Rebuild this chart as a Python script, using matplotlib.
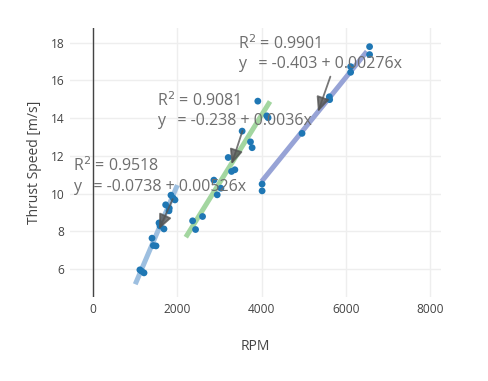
import numpy as np
import matplotlib.pyplot as plt

# measured points, three RPM groups
rpm_1 = [1110, 1150, 1208, 1398, 1429, 1493, 1564, 1588, 1682, 1722, 1808, 1801, 1848, 1903, 1943]
speed_1 = [5.95, 5.88, 5.79, 7.63, 7.24, 7.22, 8.44, 8.28, 8.12, 9.40, 9.22, 9.08, 9.91, 9.75, 9.66]

rpm_2 = [2362, 2432, 2598, 2867, 2946, 3033, 3207, 3286, 3365, 3538, 3736, 3775, 3910, 4123, 4154]
speed_2 = [8.55, 8.09, 8.78, 10.71, 9.93, 10.28, 11.91, 11.17, 11.26, 13.31, 12.74, 12.43, 14.90, 14.12, 14.02]

rpm_3 = [4012, 4012, 4960, 5608, 5616, 6114, 6114, 6564, 6564]
speed_3 = [10.50, 10.14, 13.19, 15.13, 14.98, 16.73, 16.43, 17.79, 17.37]

# linear fits: intercept, slope, r2, x range of the fit line
fits = [
    dict(b0=-0.0738, b1=0.00526, r2="0.9518", x0=1000, x1=2000, color="#9dbfe0"),
    dict(b0=-0.238, b1=0.0036, r2="0.9081", x0=2200, x1=4200, color="#a3d6a0"),
    dict(b0=-0.403, b1=0.00276, r2="0.9901", x0=4000, x1=6500, color="#97a3d6"),
]
fit_b0_txt = ["-0.0738", "-0.238", "-0.403"]
fit_b1_txt = ["0.00526", "0.0036", "0.00276"]

# annotation placement (text left / line centres, arrow tail and head)
ann_text = [(-474, 11.47, 10.35), (1517, 14.92, 13.86), (3436, 17.95, 16.89)]
ann_tail = [(1889, 9.70), (3547, 13.33), (5633, 16.20)]
ann_head = [(1565, 8.10), (3287, 11.55), (5339, 14.33)]

plt.rcParams['font.family'] = ['Open Sans', 'DejaVu Sans']

fig = plt.figure(figsize=(4.88, 3.81), dpi=100)
ax = fig.add_axes([0.1434, 0.2205, 0.7603, 0.706])

for f in fits:
    xs = np.array([f["x0"], f["x1"]])
    ax.plot(xs, f["b0"] + f["b1"] * xs, color=f["color"], lw=3.6, solid_capstyle="butt", zorder=2)

for xs, ys in [(rpm_1, speed_1), (rpm_2, speed_2), (rpm_3, speed_3)]:
    ax.scatter(xs, ys, s=24, color="#1f77b4", edgecolors="none", zorder=3)

for i in range(3):
    tx, ty_r2, ty_eq = ann_text[i]
    ax.text(tx, ty_r2, "R$^2$ = " + fits[i]["r2"], fontsize=11.5, color="#6e6e6e",
            ha="left", va="center", zorder=5)
    ax.text(tx, ty_eq, "y   = " + fit_b0_txt[i] + " + " + fit_b1_txt[i] + "x", fontsize=11.5,
            color="#6e6e6e", ha="left", va="center", zorder=5)
    ax.annotate("", xy=ann_head[i], xytext=ann_tail[i],
                arrowprops=dict(arrowstyle="-|>,head_length=0.9,head_width=0.4", color="#555555",
                                alpha=0.8, lw=1.3, shrinkA=0, shrinkB=0), zorder=4)

ax.set_xlim(-550, 8260)
ax.set_ylim(4.51, 18.78)
ax.set_xticks([0, 2000, 4000, 6000, 8000])
ax.set_yticks([6, 8, 10, 12, 14, 16, 18])
ax.grid(True, color="#eeeeee", lw=1)
ax.set_axisbelow(True)
ax.axvline(0, color="#444444", lw=1, zorder=1)
for s in ax.spines.values():
    s.set_visible(False)
ax.tick_params(length=0, labelsize=8.6, labelcolor="#444444", pad=4)
ax.set_xlabel("RPM", fontsize=10, color="#444444", labelpad=17)
ax.set_ylabel("Thrust Speed [m/s]", fontsize=10, color="#444444", labelpad=6)

fig.savefig("out.png", dpi=100)
